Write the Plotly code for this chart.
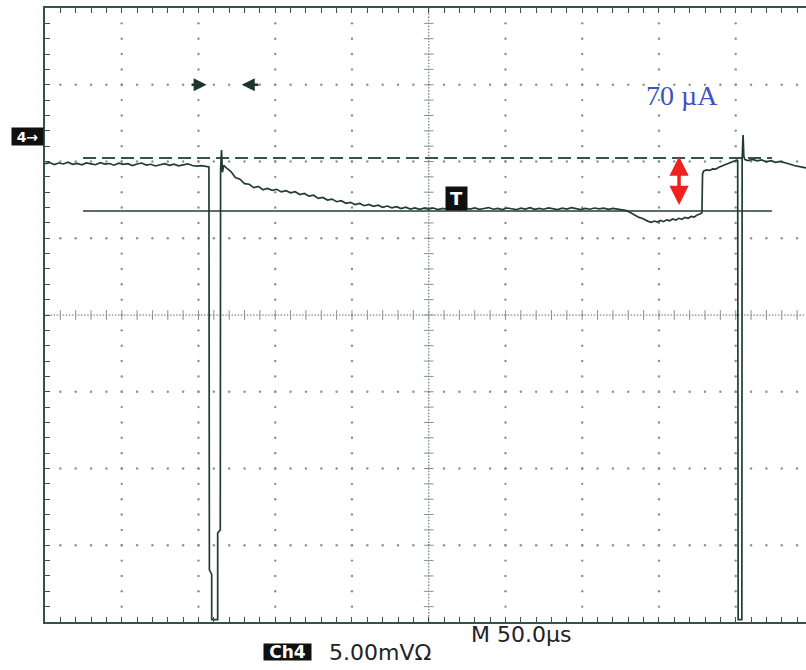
import plotly.graph_objects as go

# ---- Scope settings -------------------------------------------------------
US_PER_DIV = 50          # M 50.0us
MV_PER_DIV = 5           # Ch4 5.00 mV
X_RANGE = [-250, 245.8]  # screen is cut a little before the 10th division
Y_RANGE = [-20, 20]

# ---- Ch4 acquisition (time in us, level in mV) ------------------------------
idle_t = [-250, -247, -244, -241, -238, -235, -232, -229, -226, -223, -220, -217,
          -214, -211, -208, -205, -202, -199, -196, -193, -190, -187, -184, -181,
          -178, -175, -172, -169, -166, -163, -160, -157, -154, -151, -148, -145.5]
idle_v = [9.86, 9.93, 9.80, 9.90, 9.84, 9.95, 9.82, 9.88, 9.78, 9.91, 9.85, 9.79,
          9.92, 9.83, 9.87, 9.76, 9.89, 9.81, 9.86, 9.74, 9.84, 9.90, 9.77, 9.82,
          9.71, 9.80, 9.86, 9.75, 9.83, 9.72, 9.79, 9.85, 9.74, 9.70, 9.73, 9.66]

pulse1_t = [-143.2, -142.9, -141.4, -141.4, -137.5, -137.5, -135.8, -135.6, -135.0, -134.4, -133.6]
pulse1_v = [9.64, -16.6, -16.9, -19.85, -19.85, -14.2, -14.0, 9.5, 10.75, 9.3, 9.75]

decay_t = [-132, -129, -126, -123, -120, -117, -114, -111, -108, -105, -102, -99,
           -96, -93, -90, -87, -84, -81, -78, -75, -72, -69, -66, -63, -60, -57,
           -54, -51, -48, -45, -42, -39, -36, -33, -30, -27, -24, -21, -18, -15,
           -12, -9, -6, -3]
decay_v = [9.60, 9.36, 8.95, 8.85, 8.56, 8.52, 8.30, 8.38, 8.16, 8.25, 8.12, 8.19,
           8.02, 8.10, 7.96, 8.03, 7.85, 7.92, 7.74, 7.80, 7.60, 7.66, 7.49, 7.55,
           7.38, 7.45, 7.28, 7.34, 7.19, 7.27, 7.12, 7.20, 7.08, 7.15, 7.02, 7.10,
           6.98, 7.06, 6.93, 7.02, 6.90, 6.98, 6.88, 6.96]

settled_t = [0, 3, 6, 9, 12, 15, 18, 21, 24, 27, 30, 33, 36, 39, 42, 45, 48, 51,
             54, 57, 60, 63, 66, 69, 72, 75, 78, 81, 84, 87, 90, 93, 96, 99, 102,
             105, 108, 111, 114, 117, 120, 123, 126]
settled_v = [6.90, 6.97, 6.87, 6.95, 6.89, 6.99, 6.91, 6.86, 6.96, 6.90, 6.98, 6.88,
             6.94, 7.00, 6.89, 6.95, 6.87, 6.97, 6.92, 6.86, 6.96, 6.90, 6.99, 6.88,
             6.94, 6.89, 6.98, 6.91, 6.87, 6.96, 6.90, 6.99, 6.92, 6.87, 6.95, 6.89,
             6.97, 6.91, 6.96, 6.88, 6.94, 6.90, 6.86]

dip_t = [129, 131, 133, 135, 137, 139, 141, 143, 145, 147, 149, 151, 153, 155, 157,
         159, 161, 163, 165, 167, 169, 171, 173, 175, 177, 178.0]
dip_v = [6.80, 6.70, 6.58, 6.50, 6.36, 6.30, 6.18, 6.10, 6.04, 6.12, 6.06, 6.16,
         6.08, 6.20, 6.14, 6.26, 6.19, 6.30, 6.24, 6.36, 6.30, 6.42, 6.38, 6.52,
         6.60, 6.66]

step_t = [178.4, 179.2, 181, 183, 185, 187, 189, 191, 193, 195, 197, 199, 200.8]
step_v = [9.20, 9.38, 9.45, 9.42, 9.52, 9.50, 9.62, 9.70, 9.78, 9.85, 9.96, 10.05, 10.10]

pulse2_t = [201.3, 201.6, 204.0, 204.2, 204.8, 205.3, 206]
pulse2_v = [10.05, -19.85, -19.85, 10.2, 11.73, 10.3, 10.12]

tail_t = [208, 211, 214, 217, 220, 223, 226, 229, 232, 235, 238, 241, 244, 246]
tail_v = [10.06, 10.14, 10.04, 10.10, 9.98, 10.06, 9.95, 10.01, 9.90, 9.84, 9.74,
          9.66, 9.62, 9.58]

time_us = idle_t + pulse1_t + decay_t + settled_t + dip_t + step_t + pulse2_t + tail_t
ch4_mv = idle_v + pulse1_v + decay_v + settled_v + dip_v + step_v + pulse2_v + tail_v

# ---- Reference levels and markers ------------------------------------------
ref_span_us = [-225.2, 223.6]
idle_level_mv = 10.23      # dashed
active_level_mv = 6.78     # solid
delta_arrow_us = 163.1
delta_arrow_mv = [10.42, 7.17]
delta_label = "70 µA"
delta_label_pos = [165, 14.3]
cursor_level_mv = 15
cursor_right = [-155.5, -144.7]   # tail, head
cursor_left = [-110.0, -121.8]    # tail, head
trigger_pos = [18.4, 7.56]
ch4_ground_mv = 11.66

TRACE = "#223b35"
FRAME = "#35524b"
DOT = "#849590"

fig = go.Figure()

# ---- Graticule --------------------------------------------------------------
gx, gy = [], []
for k in range(-4, 5):
    if k == 0:
        continue
    for j in range(-19, 20):
        gx.append(k * US_PER_DIV)
        gy.append(j * MV_PER_DIV / 5)
for k in range(-3, 4):
    if k == 0:
        continue
    for j in range(-24, 25):
        gx.append(j * US_PER_DIV / 5)
        gy.append(k * MV_PER_DIV)
fig.add_trace(go.Scatter(x=gx, y=gy, mode="markers", hoverinfo="skip",
                         marker=dict(symbol="circle", size=2.4, color=DOT)))

# centre cross: fine dots plus minor-division ticks
cx = [0] * 201 + [j * 2 for j in range(-125, 123)]
cy = [j * 0.2 for j in range(-100, 101)] + [0] * 248
fig.add_trace(go.Scatter(x=cx, y=cy, mode="markers", hoverinfo="skip",
                         marker=dict(symbol="circle", size=1.7, color=DOT)))
fig.add_trace(go.Scatter(x=[0] * 39, y=list(range(-19, 20)), mode="markers", hoverinfo="skip",
                         marker=dict(symbol="line-ew", size=7, color=DOT,
                                     line=dict(width=1, color=DOT))))
fig.add_trace(go.Scatter(x=[j * 10 for j in range(-24, 25)], y=[0] * 49, mode="markers",
                         hoverinfo="skip",
                         marker=dict(symbol="line-ns", size=7, color=DOT,
                                     line=dict(width=1, color=DOT))))

# ---- Reference levels -------------------------------------------------------
fig.add_trace(go.Scatter(x=ref_span_us, y=[idle_level_mv] * 2, mode="lines",
                         line=dict(color=FRAME, width=2, dash="13px,6px"), hoverinfo="skip"))
fig.add_trace(go.Scatter(x=ref_span_us, y=[active_level_mv] * 2, mode="lines",
                         line=dict(color=TRACE, width=1.6), hoverinfo="skip"))

# ---- Ch4 waveform -----------------------------------------------------------
fig.add_trace(go.Scatter(x=time_us, y=ch4_mv, mode="lines",
                         line=dict(color=TRACE, width=1.7), hoverinfo="skip"))

annotations = [
    # delta arrow between the two levels
    dict(x=delta_arrow_us, y=delta_arrow_mv[1], ax=delta_arrow_us, ay=delta_arrow_mv[0],
         xref="x", yref="y", axref="x", ayref="y", text="", showarrow=True,
         arrowhead=2, arrowside="end+start", arrowwidth=3.5, arrowsize=1.1,
         arrowcolor="#f02020", standoff=0, startstandoff=0),
    dict(x=delta_label_pos[0], y=delta_label_pos[1], xref="x", yref="y",
         text=delta_label, showarrow=False,
         font=dict(family="Liberation Serif", size=28, color="#4151c2")),
    # horizontal cursor arrows
    dict(x=cursor_right[1], y=cursor_level_mv, ax=cursor_right[0], ay=cursor_level_mv,
         xref="x", yref="y", axref="x", ayref="y", text="", showarrow=True,
         arrowhead=2, arrowwidth=2.6, arrowsize=1.0, arrowcolor="#1d3530",
         standoff=0, startstandoff=0),
    dict(x=cursor_left[1], y=cursor_level_mv, ax=cursor_left[0], ay=cursor_level_mv,
         xref="x", yref="y", axref="x", ayref="y", text="", showarrow=True,
         arrowhead=2, arrowwidth=2.6, arrowsize=1.0, arrowcolor="#1d3530",
         standoff=0, startstandoff=0),
    # trigger marker
    dict(x=trigger_pos[0], y=trigger_pos[1], xref="x", yref="y", text="<b>T</b>",
         showarrow=False, bgcolor="#101010", width=19, height=21, borderpad=1,
         font=dict(family="DejaVu Sans", size=18, color="white")),
    # channel ground marker
    dict(x=0, y=ch4_ground_mv, xref="paper", yref="y", xanchor="right", xshift=-1,
         text="<b>4→</b>", showarrow=False, bgcolor="#101010", width=29, height=15,
         borderpad=1, font=dict(family="DejaVu Sans", size=14, color="white")),
    # readouts
    dict(x=0.5572, y=-0.0204, xref="paper", yref="paper", xanchor="left", yanchor="middle",
         text="M 50.0µs", showarrow=False,
         font=dict(family="DejaVu Sans", size=22, color="#222222")),
    dict(x=0.3187, y=-0.0489, xref="paper", yref="paper", xanchor="center", yanchor="middle",
         text="<b>Ch4</b>", showarrow=False, bgcolor="#101010", width=45, height=14,
         borderpad=1, font=dict(family="DejaVu Sans", size=17, color="white")),
    dict(x=0.3706, y=-0.0489, xref="paper", yref="paper", xanchor="left", yanchor="middle",
         text="5.00mVΩ", showarrow=False,
         font=dict(family="DejaVu Sans", size=22, color="#222222")),
]

fig.update_layout(
    width=806, height=670, autosize=False,
    margin=dict(l=45, r=0, t=8, b=48, pad=0),
    paper_bgcolor="white", plot_bgcolor="white",
    showlegend=False,
    annotations=annotations,
    xaxis=dict(range=X_RANGE, showgrid=False, zeroline=False, showticklabels=False,
               showline=True, linecolor=FRAME, linewidth=2, mirror="ticks",
               ticks="inside", tick0=-250, dtick=10, ticklen=5, tickwidth=1,
               tickcolor=FRAME, fixedrange=True),
    yaxis=dict(range=Y_RANGE, showgrid=False, zeroline=False, showticklabels=False,
               showline=True, linecolor=FRAME, linewidth=2, mirror=False,
               ticks="inside", tick0=-20, dtick=1, ticklen=5, tickwidth=1,
               tickcolor=FRAME, fixedrange=True),
)

fig.write_html("out.html")
